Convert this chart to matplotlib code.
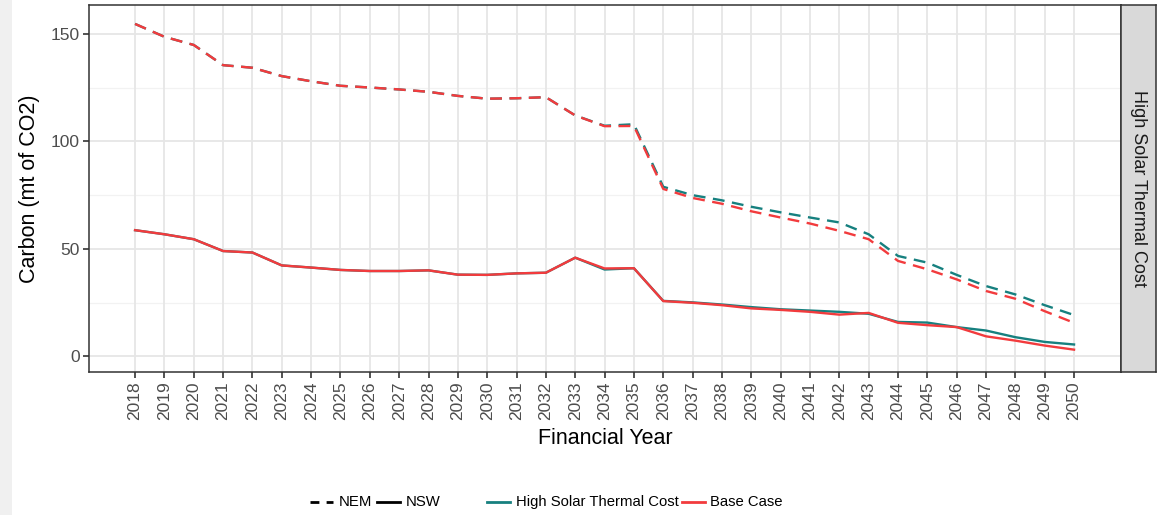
import matplotlib
matplotlib.use("Agg")
import matplotlib.pyplot as plt
from matplotlib.lines import Line2D
from matplotlib.patches import Rectangle

plt.rcParams["font.family"] = ["Liberation Sans", "DejaVu Sans"]

# Annual carbon emissions (mt of CO2), financial years 2018-2050
years = list(range(2018, 2051))

nem_base = [154.7, 148.7, 144.9, 135.5, 134.3, 130.4, 128.0, 125.9, 125.1, 124.2,
            123.1, 121.2, 119.9, 120.1, 120.6, 112.1, 107.1, 107.2, 77.9, 73.7,
            71.0, 67.5, 64.6, 61.8, 58.4, 54.5, 44.4, 40.5, 35.8, 30.4,
            26.8, 21.0, 15.6]
nem_solar = [154.7, 148.7, 144.9, 135.5, 134.3, 130.4, 128.0, 125.9, 125.1, 124.2,
             123.1, 121.2, 119.9, 120.1, 120.6, 112.1, 107.3, 108.0, 78.9, 75.0,
             72.6, 69.6, 67.0, 64.6, 62.3, 56.8, 46.7, 43.6, 37.9, 32.7,
             28.8, 23.8, 19.2]
nsw_base = [58.7, 56.8, 54.5, 49.0, 48.3, 42.3, 41.3, 40.2, 39.7, 39.7,
            40.0, 38.0, 37.9, 38.6, 38.9, 45.9, 40.9, 41.0, 25.7, 24.9,
            23.8, 22.3, 21.6, 20.7, 19.4, 20.2, 15.6, 14.5, 13.6, 9.3,
            7.3, 5.0, 3.1]
nsw_solar = [58.7, 56.8, 54.5, 49.0, 48.3, 42.3, 41.3, 40.2, 39.7, 39.7,
             40.0, 38.0, 37.9, 38.6, 38.9, 45.9, 40.4, 41.0, 25.8, 25.1,
             24.1, 22.9, 21.9, 21.3, 20.7, 19.8, 16.0, 15.7, 13.6, 12.0,
             8.9, 6.7, 5.5]

y_ticks = [0, 50, 100, 150]
y_minor = [25, 75, 125]
scenario_names = ["High Solar Thermal Cost", "Base Case"]
region_names = ["NEM", "NSW"]
panel_label = "High Solar Thermal Cost"

TEAL = "#16807f"
RED = "#f23b3d"
DASH = (5, 3.2)
LW = 1.7

W, H = 1163, 515
fig = plt.figure(figsize=(W / 100, H / 100), dpi=100)
fig.patch.set_facecolor("white")

# light margin band on the left edge
fig.patches.append(Rectangle((0, 0), 12 / W, 1, transform=fig.transFigure,
                             facecolor="#f0f0f0", edgecolor="none", zorder=0))

left, right, top, bottom = 89, 1121, 5, 372
ax = fig.add_axes([left / W, 1 - bottom / H, (right - left) / W, (bottom - top) / H])
ax.set_facecolor("white")

ax.set_xlim(2016.43, 2051.6)
ax.set_ylim(-7.3, 163.5)

# grid
for yv in y_minor:
    ax.axhline(yv, color="#f2f2f2", lw=0.9, zorder=0)
for yv in y_ticks:
    ax.axhline(yv, color="#e6e6e6", lw=1.3, zorder=0)
for xv in years:
    ax.axvline(xv, color="#e6e6e6", lw=1.3, zorder=0)

# series
ax.plot(years, nem_solar, color=TEAL, lw=LW, dashes=DASH, zorder=2)
ax.plot(years, nem_base, color=RED, lw=LW, dashes=DASH, zorder=3)
ax.plot(years, nsw_solar, color=TEAL, lw=LW, zorder=2)
ax.plot(years, nsw_base, color=RED, lw=LW, zorder=3)

ax.set_xticks(years)
ax.set_xticklabels([str(y) for y in years], rotation=90)
ax.set_yticks(y_ticks)
ax.tick_params(axis="both", colors="#333333", length=4.5, width=1.2,
               labelcolor="#4d4d4d", labelsize=12.5, pad=2)
for s in ax.spines.values():
    s.set_color("#333333")
    s.set_linewidth(1.1)

ax.set_xlabel("Financial Year", fontsize=15.5, color="black", labelpad=6)
ax.set_ylabel("Carbon (mt of CO2)", fontsize=15.5, color="black", labelpad=8)

# facet strip
sax = fig.add_axes([1121 / W, 1 - bottom / H, 35 / W, (bottom - top) / H])
sax.set_facecolor("#d9d9d9")
sax.set_xticks([])
sax.set_yticks([])
for s in sax.spines.values():
    s.set_color("#333333")
    s.set_linewidth(1.1)
sax.text(0.5, 0.5, panel_label, rotation=-90, ha="center", va="center",
         fontsize=13, color="#1a1a1a", transform=sax.transAxes)

# legend
ly = 1 - 502 / H


def key(x0, x1, color, dashed=False):
    ln = Line2D([x0 / W, x1 / W], [ly, ly], transform=fig.transFigure,
                color=color, lw=2.0)
    if dashed:
        ln.set_dashes((3.2, 2.6))
    fig.add_artist(ln)


def label(x, s):
    fig.text(x / W, ly, s, ha="left", va="center", fontsize=10.7, color="black")


key(310, 333, "black", dashed=True)
label(339, region_names[0])
key(377, 400, "black")
label(406, region_names[1])
key(487, 510, TEAL)
label(516, scenario_names[0])
key(682, 705, RED)
label(710, scenario_names[1])

fig.savefig("out.png", dpi=100, facecolor="white")
